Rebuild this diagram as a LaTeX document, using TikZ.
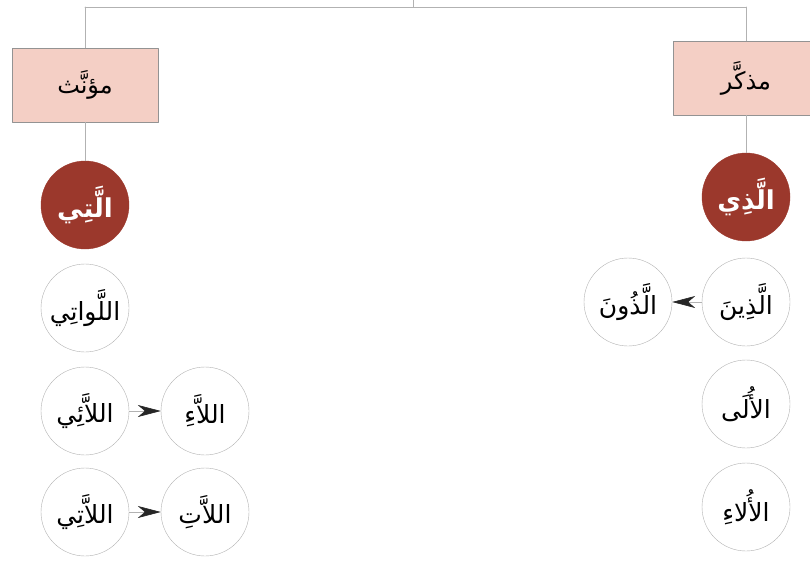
\documentclass[tikz,border=0pt]{standalone}
\usepackage{fontspec}
\newfontfamily\arabicfont[Script=Arabic]{DejaVu Sans}
\TeXXeTstate=1
\usetikzlibrary{arrows.meta}
\definecolor{boxpink}{RGB}{244,207,197}
\definecolor{rustred}{RGB}{155,56,44}
\newcommand{\arab}[1]{\arabicfont\beginR #1\endR}
\begin{document}
\begin{tikzpicture}[x=1pt,y=-1pt,line cap=round,line join=round,
  genderbox/.style={draw=gray!85,fill=boxpink,minimum width=146pt,minimum height=74pt,inner sep=0pt,font=\fontsize{24}{28}\selectfont},
  mainform/.style={circle,fill=rustred,draw=rustred,text=white,minimum size=88pt,inner sep=0pt,font=\bfseries\fontsize{26}{30}\selectfont},
  formcircle/.style={circle,draw=gray!60,fill=white,minimum size=88pt,inner sep=0pt,font=\fontsize{25}{29}\selectfont},
  link/.style={draw=gray!60,line width=0.6pt},
  variant/.style={draw=gray!60,line width=0.6pt,-{Stealth[length=23pt,width=12pt,inset=7pt,color=black!85]}}]
  \useasboundingbox (0,0) rectangle (810,561);
  % top branch
  \coordinate (top) at (413,0);
  \coordinate (topmid) at (413,7);
  \coordinate (topleft) at (85,7);
  \coordinate (topright) at (746,7);
  \node[genderbox] (fem) at (85,85) {\arab{مؤنَّث}};
  \node[genderbox] (masc) at (746,78) {\arab{مذكَّر}};
  \draw[link] (top) -- (topmid);
  \draw[link] (topleft) -- (topright);
  \draw[link] (topleft) -- (fem);
  \draw[link] (topright) -- (masc);
  % feminine column
  \node[mainform] (allati) at (85,205) {\arab{الَّتِي}};
  \node[formcircle] (allawati) at (85,308) {\arab{اللَّواتِي}};
  \node[formcircle] (allaai) at (85,411) {\arab{اللاَّئِي}};
  \node[formcircle] (allaati) at (85,512) {\arab{اللاَّتِي}};
  \node[formcircle] (allaa) at (205,411) {\arab{اللاَّءِ}};
  \node[formcircle] (allaat) at (205,512) {\arab{اللاَّتِ}};
  \draw[link] (fem) -- (allati);
  \draw[variant] (allaai) -- (allaa);
  \draw[variant] (allaati) -- (allaat);
  % masculine column
  \node[mainform] (alladhi) at (746,197) {\arab{الَّذِي}};
  \node[formcircle] (alladhina) at (746,302) {\arab{الَّذِينَ}};
  \node[formcircle] (alula) at (746,404) {\arab{الأُلَى}};
  \node[formcircle] (ulaa) at (746,507) {\arab{الأُلاءِ}};
  \node[formcircle] (alladhuna) at (628,302) {\arab{الَّذُونَ}};
  \draw[link] (masc) -- (alladhi);
  \draw[variant] (alladhina) -- (alladhuna);
\end{tikzpicture}
\end{document}
